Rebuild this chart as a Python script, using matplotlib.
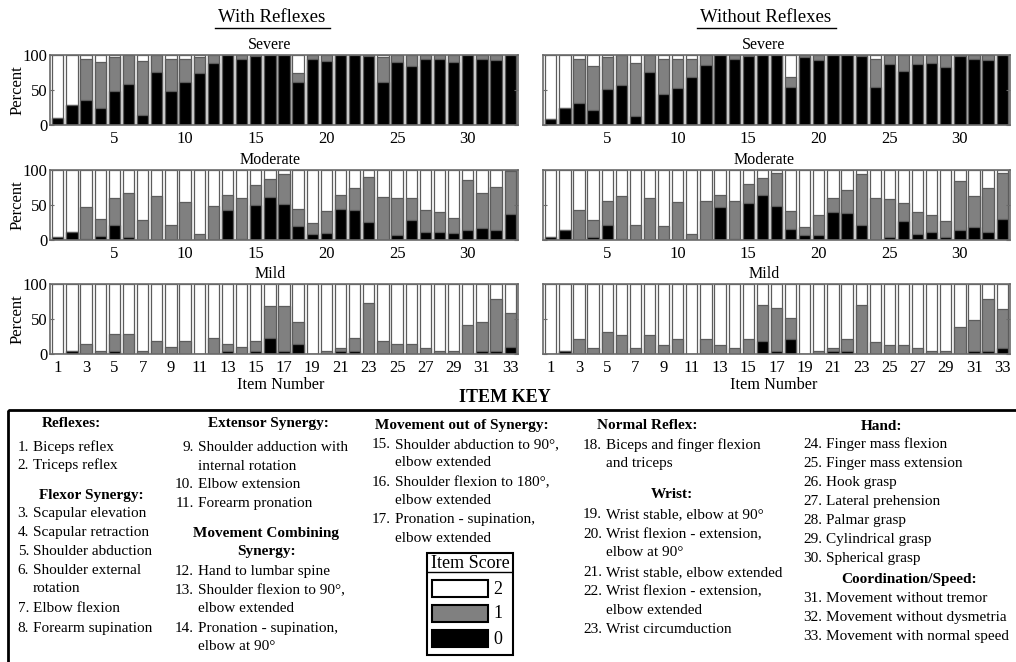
import matplotlib
matplotlib.use("Agg")
import matplotlib.pyplot as plt
from matplotlib.patches import Rectangle
import numpy as np

plt.rcParams['font.family'] = ['Liberation Serif', 'DejaVu Serif']

# item numbers 1..33
items = np.arange(1, 34)

# percent of subjects scoring 0 (black) and scoring 0 or 1 (top of grey), per item
sev_wr_0 = [10, 29, 36, 25, 48, 59, 15, 76, 48, 62, 74, 89, 100, 95, 98, 100, 100,
            62, 95, 92, 100, 100, 98, 62, 90, 85, 95, 95, 90, 100, 95, 93, 100]
sev_wr_01 = [10, 29, 95, 90, 97, 100, 91, 100, 94, 94, 97, 100, 100, 100, 100, 100, 100,
             75, 100, 100, 100, 100, 100, 97, 100, 100, 100, 100, 100, 100, 100, 100, 100]
sev_wo_0 = [8, 25, 31, 22, 51, 57, 13, 76, 45, 53, 69, 86, 100, 95, 99, 100, 100,
            54, 97, 93, 100, 100, 99, 54, 87, 77, 87, 88, 83, 99, 95, 93, 100]
sev_wo_01 = [8, 25, 94, 84, 97, 100, 89, 100, 95, 94, 95, 100, 100, 100, 100, 100, 100,
             68, 100, 100, 100, 100, 100, 95, 100, 100, 100, 100, 100, 100, 100, 100, 100]

mod_wr_0 = [4, 11, 2, 6, 22, 5, 0, 0, 0, 0, 0, 0, 43, 2, 50, 61, 52,
            20, 8, 10, 44, 43, 26, 0, 7, 29, 11, 11, 10, 15, 17, 15, 37]
mod_wr_01 = [4, 11, 47, 30, 60, 67, 29, 63, 22, 54, 8, 49, 65, 60, 78, 87, 94,
             44, 24, 41, 65, 74, 90, 62, 60, 60, 43, 40, 32, 86, 67, 76, 99]
mod_wo_0 = [5, 14, 0, 5, 22, 2, 0, 0, 0, 0, 0, 0, 47, 2, 53, 64, 49,
            16, 7, 7, 40, 38, 22, 0, 5, 27, 9, 11, 5, 14, 18, 11, 30]
mod_wo_01 = [5, 14, 43, 29, 56, 63, 22, 60, 20, 54, 9, 56, 64, 56, 80, 89, 96,
             42, 18, 36, 60, 71, 94, 60, 58, 53, 40, 36, 27, 85, 63, 74, 96]

mild_wr_0 = [0, 5, 0, 0, 5, 0, 0, 0, 0, 0, 0, 0, 5, 0, 5, 23, 5,
             14, 0, 0, 5, 5, 0, 0, 0, 0, 0, 0, 0, 0, 5, 5, 10]
mild_wr_01 = [0, 5, 14, 5, 28, 28, 5, 18, 10, 18, 0, 23, 14, 10, 18, 68, 68,
              46, 0, 5, 9, 23, 73, 18, 14, 14, 9, 5, 5, 41, 46, 78, 59]
mild_wo_0 = [0, 4, 0, 0, 0, 0, 0, 0, 0, 0, 0, 0, 0, 0, 0, 18, 4,
             22, 0, 0, 4, 4, 0, 0, 0, 0, 0, 0, 0, 0, 4, 4, 9]
mild_wo_01 = [0, 4, 21, 9, 31, 27, 9, 27, 13, 21, 0, 21, 13, 9, 21, 70, 66,
              52, 0, 4, 9, 21, 70, 17, 13, 13, 9, 4, 4, 39, 48, 79, 65]

severities = ["Severe", "Moderate", "Mild"]
groups = ["With Reflexes", "Without Reflexes"]

item_names = [
    "Biceps reflex", "Triceps reflex",
    "Scapular elevation", "Scapular retraction", "Shoulder abduction",
    "Shoulder external\nrotation", "Elbow flexion", "Forearm supination",
    "Shoulder adduction with\ninternal rotation", "Elbow extension", "Forearm pronation",
    "Hand to lumbar spine", "Shoulder flexion to 90\u00b0,\nelbow extended",
    "Pronation - supination,\nelbow at 90\u00b0",
    "Shoulder abduction to 90\u00b0,\nelbow extended",
    "Shoulder flexion to 180\u00b0,\nelbow extended",
    "Pronation - supination,\nelbow extended",
    "Biceps and finger flexion\nand triceps",
    "Wrist stable, elbow at 90\u00b0", "Wrist flexion - extension,\nelbow at 90\u00b0",
    "Wrist stable, elbow extended", "Wrist flexion - extension,\nelbow extended",
    "Wrist circumduction",
    "Finger mass flexion", "Finger mass extension", "Hook grasp", "Lateral prehension",
    "Palmar grasp", "Cylindrical grasp", "Spherical grasp",
    "Movement without tremor", "Movement without dysmetria", "Movement with normal speed",
]
key_headers = ["Reflexes:", "Flexor Synergy:", "Extensor Synergy:", "Movement Combining",
               "Synergy:", "Movement out of Synergy:", "Normal Reflex:", "Wrist:",
               "Hand:", "Coordination/Speed:"]
score_labels = ["2", "1", "0"]

# ---- layout (pixels) ----
W, H = 1016, 662
fig = plt.figure(figsize=(W / 100, H / 100), dpi=100)

# overlay axes in pixel coordinates for text and key
kax = fig.add_axes([0, 0, 1, 1])
kax.set_xlim(0, W)
kax.set_ylim(H, 0)
kax.axis('off')

GREY = '#808080'
EDGE = '#5c5c5c'

panel_data = [
    [(sev_wr_0, sev_wr_01), (sev_wo_0, sev_wo_01)],
    [(mod_wr_0, mod_wr_01), (mod_wo_0, mod_wo_01)],
    [(mild_wr_0, mild_wr_01), (mild_wo_0, mild_wo_01)],
]
col_x = [(50, 518), (543, 1010)]
row_y = [(55, 125), (170, 240), (284, 354)]
title_cx = [270, 764]

for r in range(3):
    for c in range(2):
        x0, x1 = col_x[c]
        y0, y1 = row_y[r]
        ax = fig.add_axes([x0 / W, 1 - y1 / H, (x1 - x0) / W, (y1 - y0) / H])
        p0, p01 = panel_data[r][c]
        ax.bar(items, 100, width=0.8, color='white', edgecolor=EDGE, linewidth=0.9)
        ax.bar(items, p01, width=0.8, color=GREY, edgecolor=EDGE, linewidth=0.9)
        ax.bar(items, p0, width=0.8, color='black', edgecolor=EDGE, linewidth=0.9)
        ax.set_xlim(0.45, 33.55)
        ax.set_ylim(0, 100)
        for s in ax.spines.values():
            s.set_color('#6a6a6a')
            s.set_linewidth(1.2)
        ax.set_yticks([0, 50, 100])
        if r < 2:
            ax.set_xticks([5, 10, 15, 20, 25, 30])
        else:
            ax.set_xticks(np.arange(1, 34, 2))
        ax.tick_params(axis='x', length=0, pad=4, labelsize=12)
        ax.tick_params(axis='y', direction='in', length=3, right=True,
                       pad=2, labelsize=12, color='#6a6a6a')
        if c == 1:
            ax.set_yticklabels([])
        else:
            kax.text(18, (y0 + y1) / 2, "Percent", rotation=90, fontsize=12,
                     ha='center', va='center')
        kax.text(title_cx[c], y0 - 10, severities[r], fontsize=11.5,
                 ha='center', va='center')

# group titles with underline
for c, (x_a, x_b) in enumerate([(215, 330), (697, 836)]):
    kax.text(title_cx[c] + 2, 18, groups[c], fontsize=13.5, ha='center', va='center')
    kax.plot([x_a, x_b], [28, 28], color='black', lw=1)
for cx in [281, 774]:
    kax.text(cx, 385, "Item Number", fontsize=11.7, ha='center', va='center')

# ---- item key ----
FS = 11
BL = 5  # baseline offset from line centre
kax.text(505, 397, "ITEM KEY", fontsize=13, fontweight='bold', ha='center', va='center')
kax.add_patch(Rectangle((8, 410), 1030, 270, fill=False, ec='black', lw=2, clip_on=False))

hdr_pos = [(71, 422), (91, 494), (268, 422), (266, 532), (266, 550), (462, 424),
           (647, 424), (672, 493), (882, 425), (909, 578)]
for txt, (hx, hy) in zip(key_headers, hdr_pos):
    kax.text(hx, hy + BL, txt, fontsize=FS, fontweight='bold', ha='center', va='baseline')

num_right = [29, 194, 391, 602, 822]
text_x = [33, 198, 395, 606, 826]
item_col = [0] * 8 + [1] * 6 + [2] * 3 + [3] * 6 + [4] * 10
item_y = [446, 464, 512, 531, 550, 569, 607, 627,
          446, 483, 502, 570, 589, 627,
          443, 481, 518,
          444, 513, 533, 571, 590, 628,
          443, 462, 481, 500, 519, 538, 557, 597, 616, 635]
for i, name in enumerate(item_names):
    c = item_col[i]
    kax.text(num_right[c], item_y[i] + BL, f"{i + 1}.", fontsize=FS, ha='right', va='baseline')
    for k, line in enumerate(name.split("\n")):
        kax.text(text_x[c], item_y[i] + BL + k * 18.5, line, fontsize=FS,
                 ha='left', va='baseline')

# item score legend
kax.add_patch(Rectangle((427, 553), 86, 102, fill=False, ec='black', lw=1.5))
kax.text(470, 563, "Item Score", fontsize=13, ha='center', va='center')
kax.plot([428, 511], [572, 572], color='black', lw=1)
for k, (lab, fc) in enumerate(zip(score_labels, ['white', GREY, 'black'])):
    yy = 580 + k * 25
    kax.add_patch(Rectangle((432, yy), 56, 17, fc=fc, ec='black', lw=1.5))
    kax.text(498, yy + 9, lab, fontsize=13, ha='center', va='center')

fig.savefig("out.png", dpi=100)
